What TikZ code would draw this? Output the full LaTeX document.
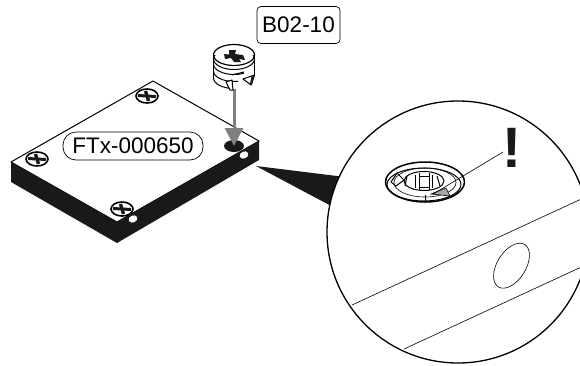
\documentclass[tikz,border=0pt]{standalone}
\usepackage{fontspec}
\setmainfont{Liberation Sans}
\usetikzlibrary{arrows.meta}
\begin{document}
\begin{tikzpicture}[x=1pt,y=-1pt,
    line/.style={black,line width=1pt,line join=round},
    thin line/.style={black,line width=0.6pt},
    dark/.style={black!90},
    label box/.style={draw,line width=0.7pt,fill=white,inner sep=0pt,font=\fontsize{22.5}{24}\selectfont},
    push/.style={draw=black!50,line width=3pt,-{Triangle[length=18pt,width=18pt]}}]
  \useasboundingbox (0,0) rectangle (580,365);
  \draw[line,fill=white] (153,81) -- (259,141) -- (117,222) -- (11,162) -- cycle;
  \fill[dark] (11,162) -- (117,222) -- (259,141) -- (259,160) -- (117,243) -- (11,182) -- cycle;
  \fill[white,rotate around={25:(244,155)}] (244,155) ellipse (4.5 and 3.5);
  \fill[white,rotate around={25:(133,219)}] (133,219) ellipse (4.5 and 3.5);
  \foreach \sx/\sy in {147/96,37/159,122/209} {
    \draw[line,line width=1.6pt,fill=white] (\sx,\sy) ellipse (11 and 7);
    \draw[dark,line width=3pt] (\sx-9,\sy-0.5) -- (\sx+9,\sy+0.5);
    \draw[dark,line width=3.4pt] (\sx-1.5,\sy-5) -- (\sx+1.5,\sy+5);
  }
  \fill[dark] (234,146) ellipse (10 and 6);
  \node[label box,rounded corners=13pt,minimum width=140pt,minimum height=28pt] (plate label) at (133,146) {FTx-000650};
  \coordinate (screw foot) at (234,82);
  \coordinate (hole) at (234,146);
  \draw[push] (screw foot) -- (hole);
  \fill[white] (213.5,55) rectangle (254.5,78);
  \fill[white] (234,78) ellipse (20.5 and 11);
  \draw[line] (213.5,55) -- (213.5,79);
  \draw[line] (254.5,55) -- (254.5,76);
  \draw[line,line width=1.2pt,fill=white] (234,55) ellipse (20.5 and 10.5);
  \begin{scope}
    \clip (213,55) rectangle (255,80);
    \draw[line] (234,59) ellipse (20.5 and 10.5);
  \end{scope}
  \foreach \by/\bx in {64/244,71/238,78/232} {
    \begin{scope}
      \clip (213,\by) rectangle (\bx,100);
      \draw[line] (234,\by) ellipse (20.5 and 10.5);
    \end{scope}
  }
  \draw[line] (244,72) -- (232,75);
  \draw[line,fill=white] (232,80) -- (226,82) -- (230,90) -- (233,90) -- cycle;
  \draw[line,fill=white] (254.5,75) -- (243,79) -- (251,85) -- cycle;
  \fill[dark] (251.5,76) -- (254.5,75) -- (252,85) -- (250,84) -- cycle;
  \begin{scope}[shift={(234,56)},dark]
    \fill (-10,-2) -- (-5,-1.5) -- (-5,-6) -- (2,-6) -- (1,-2) -- (9,-1) -- (11,4)
      -- (5,3) -- (7,6) -- (0,6) -- (-3,2) -- (-9,3) -- cycle;
  \end{scope}
  \fill[dark] (256,166) -- (345,177) -- (335,208) -- cycle;
  \begin{scope}
    \clip (0,0) rectangle (580,365);
    \draw[line,line width=1.3pt,fill=white] (458,232) circle (131);
    \clip (458,232) circle (131);
    \draw[thin line] (352,305) -- (590,195);
    \draw[thin line] (404,349) -- (590,263);
  \end{scope}
  \draw[thin line,rotate around={58:(511.5,265.7)}] (511.5,265.7) ellipse (25 and 14.3);
  \draw[line,line width=1.5pt] (425,182) ellipse (39.5 and 20);
  \draw[thin line] (425,182.5) ellipse (31 and 14.5);
  \draw[line] (424,181) ellipse (20 and 9.5);
  \begin{scope}
    \clip (425,182) ellipse (40 and 20);
    \draw[line] (424,184.5) ellipse (37 and 16.5);
  \end{scope}
  \draw[line,line width=1.5pt] (415.5,175) -- (415.5,188);
  \draw[line] (419,173) -- (419,190);
  \draw[line] (429,173) -- (429,190);
  \draw[line,line width=1.5pt] (432.5,175) -- (432.5,188);
  \draw[line] (419,176) -- (429,176);
  \draw[line] (419,187) -- (429,187);
  \draw[line] (437,176) -- (440,186);
  \draw[line] (407,176) -- (405,186);
  \draw[line] (391,182) -- (397,173) -- (404,180) -- (396,186) -- cycle;
  \draw[thin line,fill=black!35] (431,194) -- (446,188) -- (450,196) -- cycle;
  \draw[thin line] (425,195) -- (425,201);
  \node[font=\fontsize{57}{57}\selectfont\bfseries,inner sep=0pt,text=black!90] (warning) at (512,148) {!};
  \coordinate (warning foot) at (503,152);
  \coordinate (ring mark) at (433,194);
  \draw[thin line] (warning foot) -- (ring mark);
  \node[label box,rounded corners=4pt,minimum width=83pt,minimum height=37pt] (screw label) at (298.5,25) {B02-10};
\end{tikzpicture}
\end{document}
